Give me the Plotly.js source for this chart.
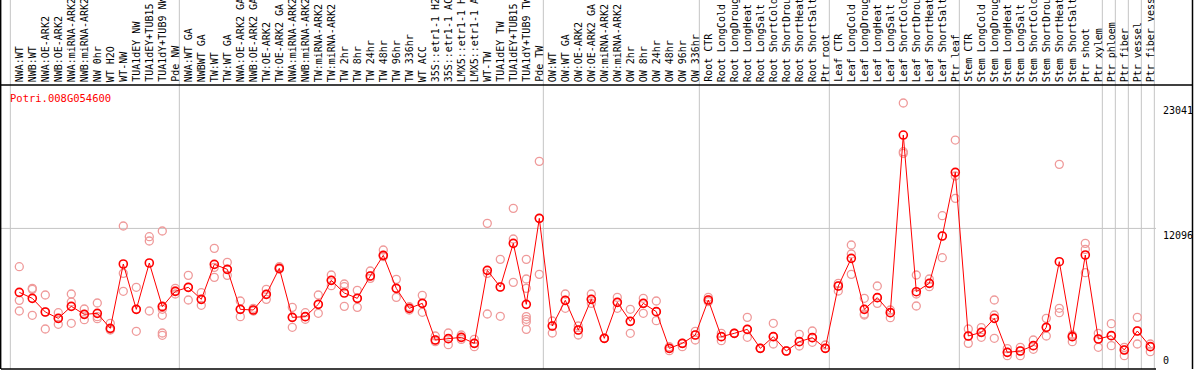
<!DOCTYPE html>
<html>
<head>
<meta charset="utf-8">
<script src="https://cdn.plot.ly/plotly-3.0.1.min.js"></script>
<style>
  html, body { margin: 0; padding: 0; background: #fff; }
  #chart { width: 1194px; height: 370px; }
</style>
</head>
<body>
<div id="chart"></div>
<script>
// ---------- data ----------
var geneName = "Potri.008G054600";

var sampleLabels = [
  "NWA:WT","NWB:WT","NWA:OE-ARK2","NWB:OE-ARK2","NWA:miRNA-ARK2","NWB:miRNA-ARK2","NW 0hr","WT H2O","WT-NW","TUA1dEY NW","TUA1dEY+TUB15 NW","TUA1dY+TUB9 NW","Pde NW",
  "NWA:WT GA","NWBWT GA","TW:WT","TW:WT GA","NWA:OE-ARK2 GA","NWB:OE-ARK2 GA","TW:OE-ARK2","TW:OE-ARK2 GA","NWA:miRNA-ARK2 GA","NWB:miRNA-ARK2 GA","TW:miRNA-ARK2","TW:miRNA-ARK2 GA","TW 2hr","TW 8hr","TW 24hr","TW 48hr","TW 96hr","TW 336hr","WT ACC","35S::etr1-1 H2O","35S::etr1-1 ACC","LMX5::etr1-1 H2O","LMX5::etr1-1 ACC","WT-TW","TUA1dEY TW","TUA1dEY+TUB15 TW","TUA1dY+TUB9 TW","Pde TW",
  "OW:WT","OW:WT GA","OW:OE-ARK2","OW:OE-ARK2 GA","OW:miRNA-ARK2","OW:miRNA-ARK2 GA","OW 2hr","OW 8hr","OW 24hr","OW 48hr","OW 96hr","OW 336hr",
  "Root CTR","Root LongCold","Root LongDrought","Root LongHeat","Root LongSalt","Root ShortCold","Root ShortDrought","Root ShortHeat","Root ShortSalt","Ptr root",
  "Leaf CTR","Leaf LongCold","Leaf LongDrought","Leaf LongHeat","Leaf LongSalt","Leaf ShortCold","Leaf ShortDrought","Leaf ShortHeat","Leaf ShortSalt","Ptr leaf",
  "Stem CTR","Stem LongCold","Stem LongDrought","Stem LongHeat","Stem LongSalt","Stem ShortCold","Stem ShortDrought","Stem ShortHeat","Stem ShortSalt","Ptr shoot","Ptr xylem",
  "Ptr phloem","Ptr fiber","Ptr vessel","Ptr fiber vessel"
];

// index of the first sample of each group (separator lines)
var groupStarts = [0, 13, 41, 53, 63, 73, 84, 85, 86, 87];

var means = [
  6516,5993,4800,4247,5294,4596,4684,3374,8989,5033,9076,5265,6604,
  6953,5905,8960,8523,5033,4974,6342,8611,4334,4393,5469,7563,6458,5993,7942,9745,6865,5120,5556,2356,2473,2589,2065,8436,6982,10792,5469,12974,
  3578,5818,3229,5905,2502,5644,3985,5556,4829,1629,2065,2793,
  5847,2647,2938,3287,1629,2647,1396,2211,2560,1629,
  7069,9483,5033,6051,4742,20247,6574,7302,11432,16989,
  2705,3025,4247,1280,1396,1862,3462,9192,2647,9774,2444,
  2734,1484,3142,1774
];

var replicates = [
  [8756,5818,4887],[6865,6778,4509],[6283,4800,3316],[4742,4247,3724],[6371,5673,3811],[5062,4596,4131],
  [5585,4393,4218],[3811,3287,3229],[12305,8174,6604],[6953,5033,3113],[11374,10996,4887],
  [11869,5324,5033,4509,2967,2764],[6865,6633,6371],
  [8000,6953,5847],[6487,5905,5382],[10356,8698,7825],[9134,8523,8000],[5760,5033,4393],[5120,4974,4887],
  [6778,6342,5905],[8756,8553,8553],[5207,4334,3462],[4742,4393,4160],[6283,5469,4684],[8029,7563,7098],
  [7243,7011,5294],[6691,5993,5207],[8378,7942,7738],[10211,9745,9629],[7651,6865,6080],[5265,5120,4974],
  [6254,5556,4771],[2705,2356,2211],[2967,2473,1949],[2793,2589,2414],[2414,2065,1774],[12538,8174,4625],
  [9396,6982,4422],[13847,11171,7389],[9396,7680,6865,4393,4160,3956,3287],[17949,12974,8087],
  [4014,3578,2967],[6371,5818,5120],[3578,3229,2793],[6371,5905,5556],[2502,2502,2502],[6080,5644,5120],
  [5033,3985,2938],[5993,5556,4684],[5760,4829,4044],[1774,1629,1425],[2065,1774,2065],[3113,2793,2356],
  [6080,5847,5702],[2938,2647,2298],[2938,2938,2938],[4334,3287,2589],[1629,1629,1629],[3811,2647,2007],
  [1396,1396,1396],[2851,2211,1833],[3142,2560,2153],[1920,1629,1629],
  [7302,7069,6633],[10647,9861,8087],[5993,4625,4538],[7069,6051,5556],[4974,4742,4305],[23041,18792,18647],
  [8029,6371,5324],[7680,7302,7011],[13207,11432,9541],[19810,16669,14720],
  [3316,2705,2065],[3433,3025,2589],[5847,4538,2502],[1600,1280,989],[1716,1396,989],[2356,1862,1542],
  [4247,3462,2705],[17687,5120,4742],[2793,2647,2211],[10792,10269,8232],[2938,2444,1716],
  [3782,2734,1862],[1716,1484,989],[4334,3142,2007],[2007,1774,1338]
];

var yTickValues = [23041, 12096, 0];

// ---------- build ----------
var idx = sampleLabels.map(function (_, i) { return i; });
var repX = [], repY = [];
replicates.forEach(function (arr, i) {
  arr.forEach(function (v) { repX.push(i); repY.push(v); });
});

var mono = "DejaVu Sans Mono, monospace";

var traces = [
  {
    type: "scatter", mode: "markers", x: repX, y: repY,
    marker: { symbol: "circle-open", size: 8, color: "#ef9a9a", line: { width: 1.3, color: "#ef9a9a" } },
    hoverinfo: "y", showlegend: false, cliponaxis: false
  },
  {
    type: "scatter", mode: "lines+markers", x: idx, y: means,
    line: { color: "#ff0000", width: 1 },
    marker: { symbol: "circle-open", size: 8, color: "#ff0000", line: { width: 1.6, color: "#ff0000" } },
    hoverinfo: "y", showlegend: false, cliponaxis: false
  }
];

var shapes = [];
var gridColor = "#c4c4c4";
var topExt = 1 + 86 / 284;
groupStarts.forEach(function (g) {
  shapes.push({ type: "line", xref: "x", yref: "paper", x0: g - 0.69, x1: g - 0.69, y0: 0, y1: topExt,
    line: { color: gridColor, width: 1 }, layer: "below" });
});
shapes.push({ type: "line", xref: "x", yref: "paper", x0: 87.31, x1: 87.31, y0: 0, y1: topExt,
  line: { color: gridColor, width: 1 }, layer: "below" });
// horizontal grid at middle tick
shapes.push({ type: "line", xref: "paper", yref: "y", x0: -0.01, x1: 1, y0: yTickValues[1], y1: yTickValues[1],
  line: { color: gridColor, width: 1 }, layer: "below" });
// frame lines
shapes.push({ type: "line", xref: "paper", yref: "paper", x0: -0.0005, x1: 1 + 37 / 1155, y0: 1, y1: 1,
  line: { color: "#000", width: 1.5 } });
shapes.push({ type: "line", xref: "paper", yref: "paper", x0: 0, x1: 1, y0: 0, y1: 0,
  line: { color: "#000", width: 1.5 } });
shapes.push({ type: "line", xref: "paper", yref: "paper", x0: -0.0003, x1: -0.0003, y0: 0, y1: topExt,
  line: { color: "#000", width: 1.5 } });
shapes.push({ type: "line", xref: "paper", yref: "paper", x0: 1 + 36.5 / 1155, x1: 1 + 36.5 / 1155, y0: 0, y1: topExt,
  line: { color: "#000", width: 1.5 } });

var annotations = sampleLabels.map(function (lab, i) {
  return {
    text: lab, x: i, xref: "x", y: 1, yref: "paper", yanchor: "bottom", xanchor: "center",
    yshift: 2, textangle: -90, showarrow: false, borderpad: 0,
    font: { family: mono, size: 10, color: "#000" }
  };
});
annotations.push({
  text: geneName, xref: "paper", yref: "paper", x: 8 / 1155, y: 1 - 6 / 284,
  xanchor: "left", yanchor: "top", showarrow: false, borderpad: 0,
  font: { family: mono, size: 10.5, color: "#ff0000" }
});
yTickValues.forEach(function (v, k) {
  annotations.push({
    text: String(v), xref: "paper", yref: "y", x: 1 + 6 / 1155, y: v,
    xanchor: "left", yanchor: (k === yTickValues.length - 1) ? "bottom" : "top",
    yshift: (k === yTickValues.length - 1) ? 0 : -1,
    showarrow: false, borderpad: 0,
    font: { family: mono, size: 10, color: "#000" }
  });
});

var layout = {
  width: 1194, height: 370,
  margin: { l: 1, r: 38, t: 85, b: 1, pad: 0 },
  paper_bgcolor: "#fff", plot_bgcolor: "#fff",
  showlegend: false,
  xaxis: { range: [-1.408, 87.438], showgrid: false, zeroline: false, showticklabels: false, ticks: "", showline: false, fixedrange: true },
  yaxis: { range: [-175, 24613], showgrid: false, zeroline: false, showticklabels: false, ticks: "", showline: false, fixedrange: true },
  shapes: shapes,
  annotations: annotations
};

Plotly.newPlot("chart", traces, layout, { displayModeBar: false, staticPlot: true });
</script>
</body>
</html>
